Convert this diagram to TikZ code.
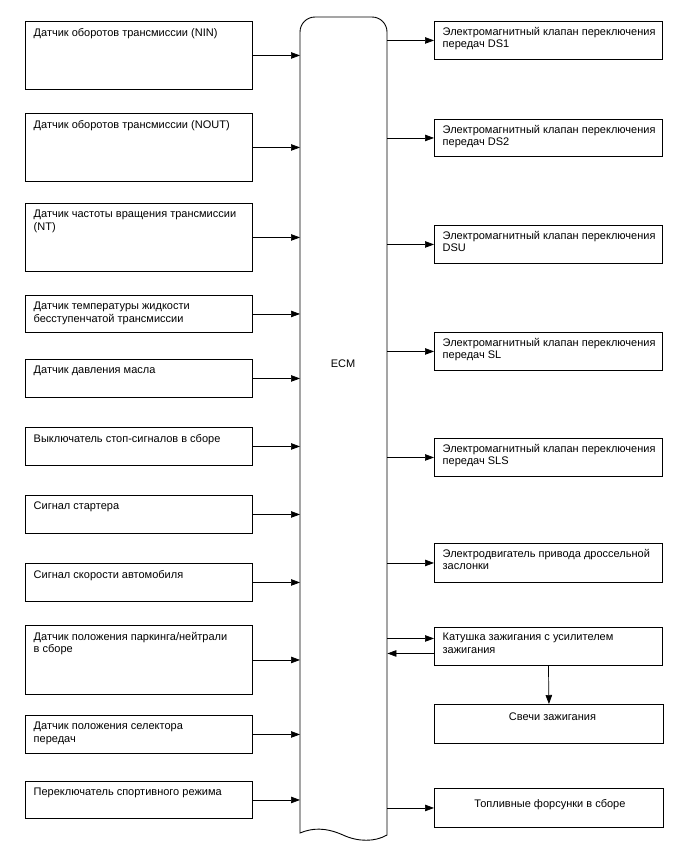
\documentclass[tikz,border=0pt]{standalone}
\usepackage{fontspec}
\setmainfont{Liberation Sans}
\usetikzlibrary{arrows.meta,positioning,calc}
\tikzset{
  box/.style={draw=black, line width=0.9pt, rectangle, inner sep=0pt, anchor=north west, minimum width=#1},
  box/.default=227pt,
  txt/.style={anchor=north west, inner sep=0pt, align=left, font=\fontsize{11}{12.4}\selectfont},
  ctxt/.style={anchor=north, inner sep=0pt, align=center, font=\fontsize{11}{12.4}\selectfont},
  arr/.style={draw=black, line width=0.7pt, -{Triangle[length=9pt,width=6.5pt]}},
  ecmline/.style={draw=black, line width=0.9pt}
}
\newcommand{\lbox}[5]{% name, top, bottom, text
  \node[box, minimum height=#3pt-#2pt] (#1) at (25,#2) {};
  \node[txt] (#1t) at ($(#1.north west)+(8.5,7)$) {#4};
}
\newcommand{\rbox}[5]{% name, top, height, text
  \node[box=228pt, minimum height=#3pt] (#1) at (434,#2) {};
  \node[txt] (#1t) at ($(#1.north west)+(8.5,6)$) {#4};
}
\begin{document}
\begin{tikzpicture}[x=1pt,y=-1pt]
\useasboundingbox (0,0) rectangle (688,852);
% ECM
\node[inner sep=0pt, minimum width=87pt, minimum height=818pt, anchor=north west] (ecm) at (300,17) {};
\draw[ecmline] (300,833) -- (300,32) .. controls (300,23.7) and (306.7,17) .. (315,17) -- (372,17)
  .. controls (380.3,17) and (387,23.7) .. (387,32) -- (387,835)
  .. controls (375,842) and (358,842) .. (343,835)
  .. controls (325,827) and (312,828) .. (300,833) -- cycle;
\node[inner sep=0pt, font=\fontsize{11}{12}\selectfont] (ecmt) at (343,364) {ECM};
% left boxes
\lbox{l1}{21}{89}{Датчик оборотов трансмиссии (NIN)}{}
\lbox{l2}{113}{181}{Датчик оборотов трансмиссии (NOUT)}{}
\lbox{l3}{203}{271}{Датчик частоты вращения трансмиссии\\(NT)}{}
\lbox{l4}{295}{332}{Датчик температуры жидкости\\бесступенчатой трансмиссии}{}
\lbox{l5}{359}{397}{Датчик давления масла}{}
\lbox{l6}{427}{465}{Выключатель стоп-сигналов в сборе}{}
\lbox{l7}{495}{533}{Сигнал стартера}{}
\lbox{l8}{563}{601}{Сигнал скорости автомобиля}{}
\lbox{l9}{625}{694}{Датчик положения паркинга/нейтрали\\в сборе}{}
\lbox{l10}{715}{753}{Датчик положения селектора\\передач}{}
\lbox{l11}{781}{818}{Переключатель спортивного режима}{}
\foreach \n in {l1,l2,l3,l4,l5,l6,l7,l8,l9,l10,l11}
  \draw[arr] (\n.east) -- (\n.east -| ecm.west);
% right boxes
\rbox{r1}{21}{38}{Электромагнитный клапан переключения\\передач DS1}{}
\rbox{r2}{119}{37}{Электромагнитный клапан переключения\\передач DS2}{}
\rbox{r3}{225}{38}{Электромагнитный клапан переключения\\DSU}{}
\rbox{r4}{332}{38}{Электромагнитный клапан переключения\\передач SL}{}
\rbox{r5}{438}{38}{Электромагнитный клапан переключения\\передач SLS}{}
\rbox{r6}{543}{39}{Электродвигатель привода дроссельной\\заслонки}{}
\rbox{coil}{627}{38}{Катушка зажигания с усилителем\\зажигания}{}
\node[box=229pt, minimum height=39pt] (spark) at (434,704) {};
\node[ctxt] (sparkt) at ($(spark.north)+(3.5,9)$) {Свечи зажигания};
\node[box=229pt, minimum height=39pt] (inj) at (434,788) {};
\node[ctxt] (injt) at ($(inj.north)+(1,11)$) {Топливные форсунки в сборе};
\foreach \n in {r1,r2,r3,r4,r5,r6,inj}
  \draw[arr] (\n.west -| ecm.east) -- (\n.west);
\draw[arr] ([yshift=8pt]coil.west -| ecm.east) -- ([yshift=8pt]coil.west);
\draw[arr] ([yshift=-7pt]coil.west) -- ([yshift=-7pt]coil.west -| ecm.east);
\draw[arr] (coil.south) -- (spark.north);
\end{tikzpicture}
\end{document}
